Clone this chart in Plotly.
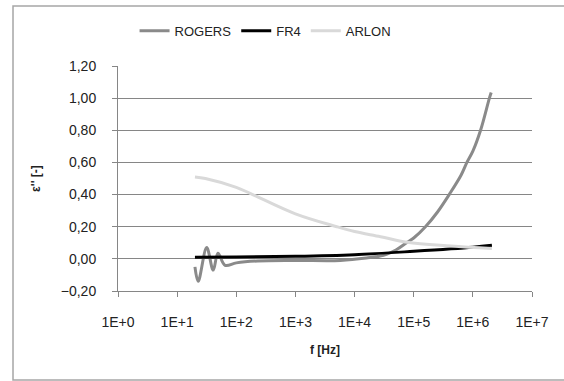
import plotly.graph_objects as go

# ---- data ----
rogers_f = [20, 22.7, 31.6, 40.7, 49, 64.6, 100, 230, 1000, 5750, 15800, 30900,
            50000, 77600, 100000, 158000, 251000, 398000, 631000, 794000, 1000000,
            1350000, 1905000, 2042000]
rogers_v = [-0.05, -0.14, 0.07, -0.07, 0.035, -0.04, -0.025, -0.013, -0.01, -0.01,
            0.005, 0.022, 0.055, 0.103, 0.13, 0.2, 0.29, 0.40, 0.52, 0.60, 0.67,
            0.80, 1.00, 1.035]

fr4_f = [20, 100, 1000, 10000, 100000, 1000000, 2100000]
fr4_v = [0.01, 0.012, 0.016, 0.026, 0.047, 0.072, 0.084]

arlon_f = [20, 30, 100, 175, 1000, 5000, 10000, 27500, 77600, 427000, 2100000]
arlon_v = [0.51, 0.50, 0.445, 0.406, 0.28, 0.2, 0.17, 0.138, 0.103, 0.08, 0.064]

x_tickvals = [1, 10, 100, 1000, 1e4, 1e5, 1e6, 1e7]
x_ticktext = ["1E+0", "1E+1", "1E+2", "1E+3", "1E+4", "1E+5", "1E+6", "1E+7"]

FONT = "Liberation Sans"
AX = "#868686"
TXT = "#222222"

fig = go.Figure()
fig.add_trace(go.Scatter(x=rogers_f, y=rogers_v, name="ROGERS", mode="lines",
                         line=dict(color="#8a8a8a", width=3, shape="spline")))
fig.add_trace(go.Scatter(x=fr4_f, y=fr4_v, name="FR4", mode="lines",
                         line=dict(color="#000000", width=3, shape="spline")))
fig.add_trace(go.Scatter(x=arlon_f, y=arlon_v, name="ARLON", mode="lines",
                         line=dict(color="#d9d9d9", width=3, shape="spline")))

fig.update_layout(
    width=564, height=381,
    margin=dict(l=118, r=32, t=66, b=90),
    paper_bgcolor="white", plot_bgcolor="white",
    separators=",.",
    font=dict(family=FONT, size=14, color=TXT),
    legend=dict(orientation="h", x=0.04, xanchor="left", y=1.156, yanchor="middle",
                font=dict(family=FONT, size=13, color=TXT),
                itemwidth=30, tracegroupgap=0, bgcolor="rgba(0,0,0,0)"),
    xaxis=dict(type="log", range=[0, 7], tickvals=x_tickvals, ticktext=x_ticktext,
               showgrid=False, showline=True, linecolor=AX, linewidth=1,
               ticks="outside", ticklen=5, tickcolor=AX, ticklabelstandoff=13,
               tickfont=dict(size=14), zeroline=False,
               title=dict(text="<b>f [Hz]</b>", font=dict(family=FONT, size=12), standoff=16)),
    yaxis=dict(range=[-0.2, 1.2], dtick=0.2, tick0=0, tickformat=".2f",
               showgrid=True, gridcolor=AX, gridwidth=1,
               showline=True, linecolor=AX, linewidth=1,
               ticks="outside", ticklen=5, tickcolor=AX, ticklabelstandoff=13,
               tickfont=dict(size=14), zeroline=False,
               title=dict(text="<b>ε'' [-]</b>", font=dict(family=FONT, size=12), standoff=17)),
)

# outer chart frame: left, top and bottom edges (right edge is outside the picture)
fig.add_shape(type="path", xref="paper", yref="paper",
              path="M 1.15 1.2667 L -0.2536 1.2667 L -0.2536 -0.3956 L 1.15 -0.3956",
              line=dict(color="#a6a6a6", width=1.5), layer="below")

fig.write_html("out.html", config={"displayModeBar": False},
               post_script=("document.body.style.margin='0';"
                            "document.body.style.padding='0';"
                            "document.body.style.overflow='hidden';"
                            "document.documentElement.style.overflow='hidden';"))
